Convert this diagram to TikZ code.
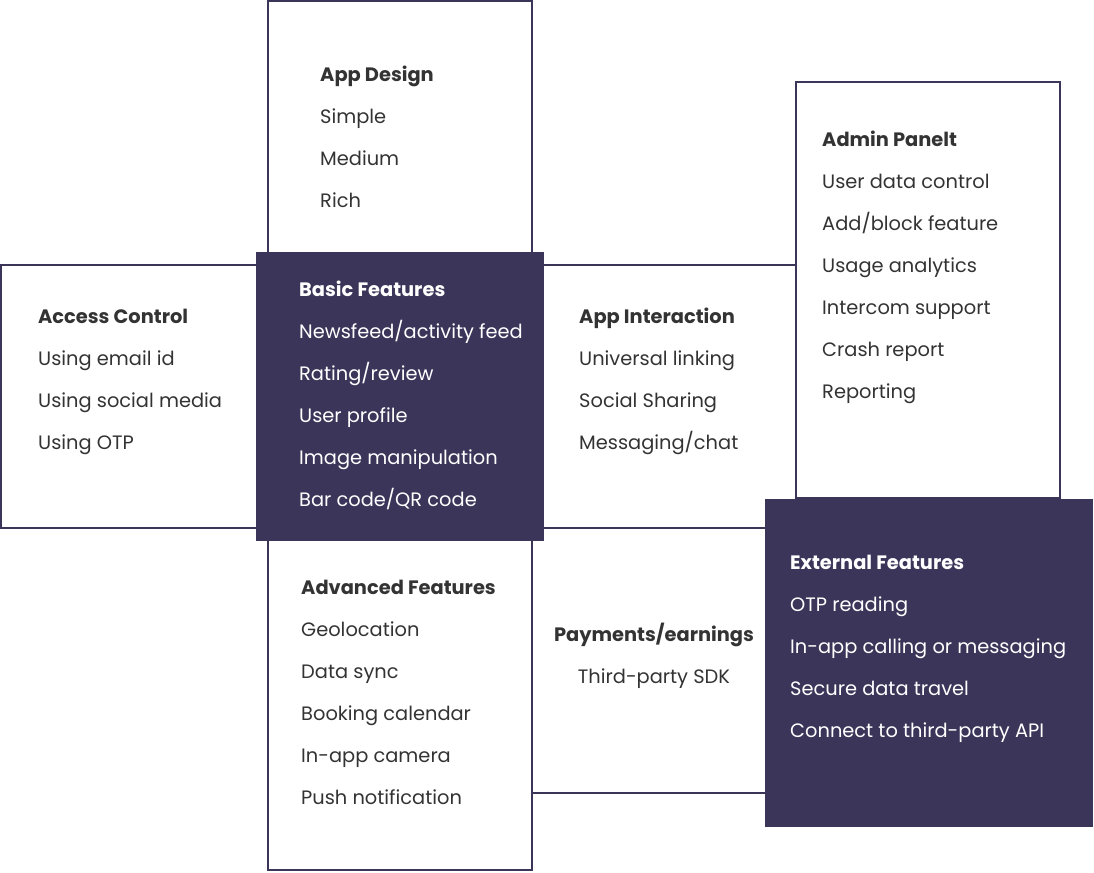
\documentclass[tikz,border=0pt]{standalone}
\usepackage{fontspec}
\setmainfont{Poppins}
\definecolor{panel}{RGB}{59,53,89}
\definecolor{ink}{RGB}{51,51,51}
\tikzset{
  box/.style={draw=panel, line width=2pt},
  darkbox/.style={fill=panel},
  item/.style={anchor=base west, inner sep=0pt, text=ink, font=\fontsize{19.4}{22}\selectfont},
  head/.style={item, font=\fontsize{19.4}{22}\selectfont\bfseries},
  lightitem/.style={item, text=white},
  lighthead/.style={head, text=white},
}

\begin{document}
\begin{tikzpicture}[x=1pt,y=-1pt]
\useasboundingbox (0,0) rectangle (1094,872);
% outlined frames
\draw[box] (268,1) rectangle (532,870);
\draw[box] (1,265) rectangle (796,528);
\draw[box] (532,528) rectangle (800,793);
\draw[box] (796,82) rectangle (1060,498);
% filled frames
\fill[darkbox] (256,252) rectangle (544,541);
\fill[darkbox] (765,499) rectangle (1093,827);
% app design
\node[head] (des0) at (320,81.5) {App Design};
\node[item] (des1) at (320,123.5) {Simple};
\node[item] (des2) at (320,165.5) {Medium};
\node[item] (des3) at (320,207.5) {Rich};
% admin
\node[head] (adm0) at (822,146.5) {Admin Panelt};
\node[item] (adm1) at (822,188.5) {User data control};
\node[item] (adm2) at (822,230.5) {Add/block feature};
\node[item] (adm3) at (822,272.5) {Usage analytics};
\node[item] (adm4) at (822,314.5) {Intercom support};
\node[item] (adm5) at (822,356.5) {Crash report};
\node[item] (adm6) at (822,398.5) {Reporting};
% basic
\node[lighthead] (bas0) at (299,296.5) {Basic Features};
\node[lightitem] (bas1) at (299,338.5) {Newsfeed/activity feed};
\node[lightitem] (bas2) at (299,380.5) {Rating/review};
\node[lightitem] (bas3) at (299,422.5) {User profile};
\node[lightitem] (bas4) at (299,464.5) {Image manipulation};
\node[lightitem] (bas5) at (299,506.5) {Bar code/QR code};
% access
\node[head] (acc0) at (38,323.5) {Access Control};
\node[item] (acc1) at (38,365.5) {Using email id};
\node[item] (acc2) at (38,407.5) {Using social media};
\node[item] (acc3) at (38,449.5) {Using OTP};
% interaction
\node[head] (int0) at (579,323.5) {App Interaction};
\node[item] (int1) at (579,365.5) {Universal linking};
\node[item] (int2) at (579,407.5) {Social Sharing};
\node[item] (int3) at (579,449.5) {Messaging/chat};
% advanced
\node[head] (adv0) at (301,594.5) {Advanced Features};
\node[item] (adv1) at (301,636.5) {Geolocation};
\node[item] (adv2) at (301,678.5) {Data sync};
\node[item] (adv3) at (301,720.5) {Booking calendar};
\node[item] (adv4) at (301,762.5) {In-app camera};
\node[item] (adv5) at (301,804.5) {Push notification};
% payments
\node[head, anchor=base] (pay0) at (654,641.5) {Payments/earnings};
\node[item, anchor=base] (pay1) at (654,683.5) {Third-party SDK};
% external
\node[lighthead] (ext0) at (790,569.5) {External Features};
\node[lightitem] (ext1) at (790,611.5) {OTP reading};
\node[lightitem] (ext2) at (790,653.5) {In-app calling or messaging};
\node[lightitem] (ext3) at (790,695.5) {Secure data travel};
\node[lightitem] (ext4) at (790,737.5) {Connect to third-party API};
\end{tikzpicture}
\end{document}
